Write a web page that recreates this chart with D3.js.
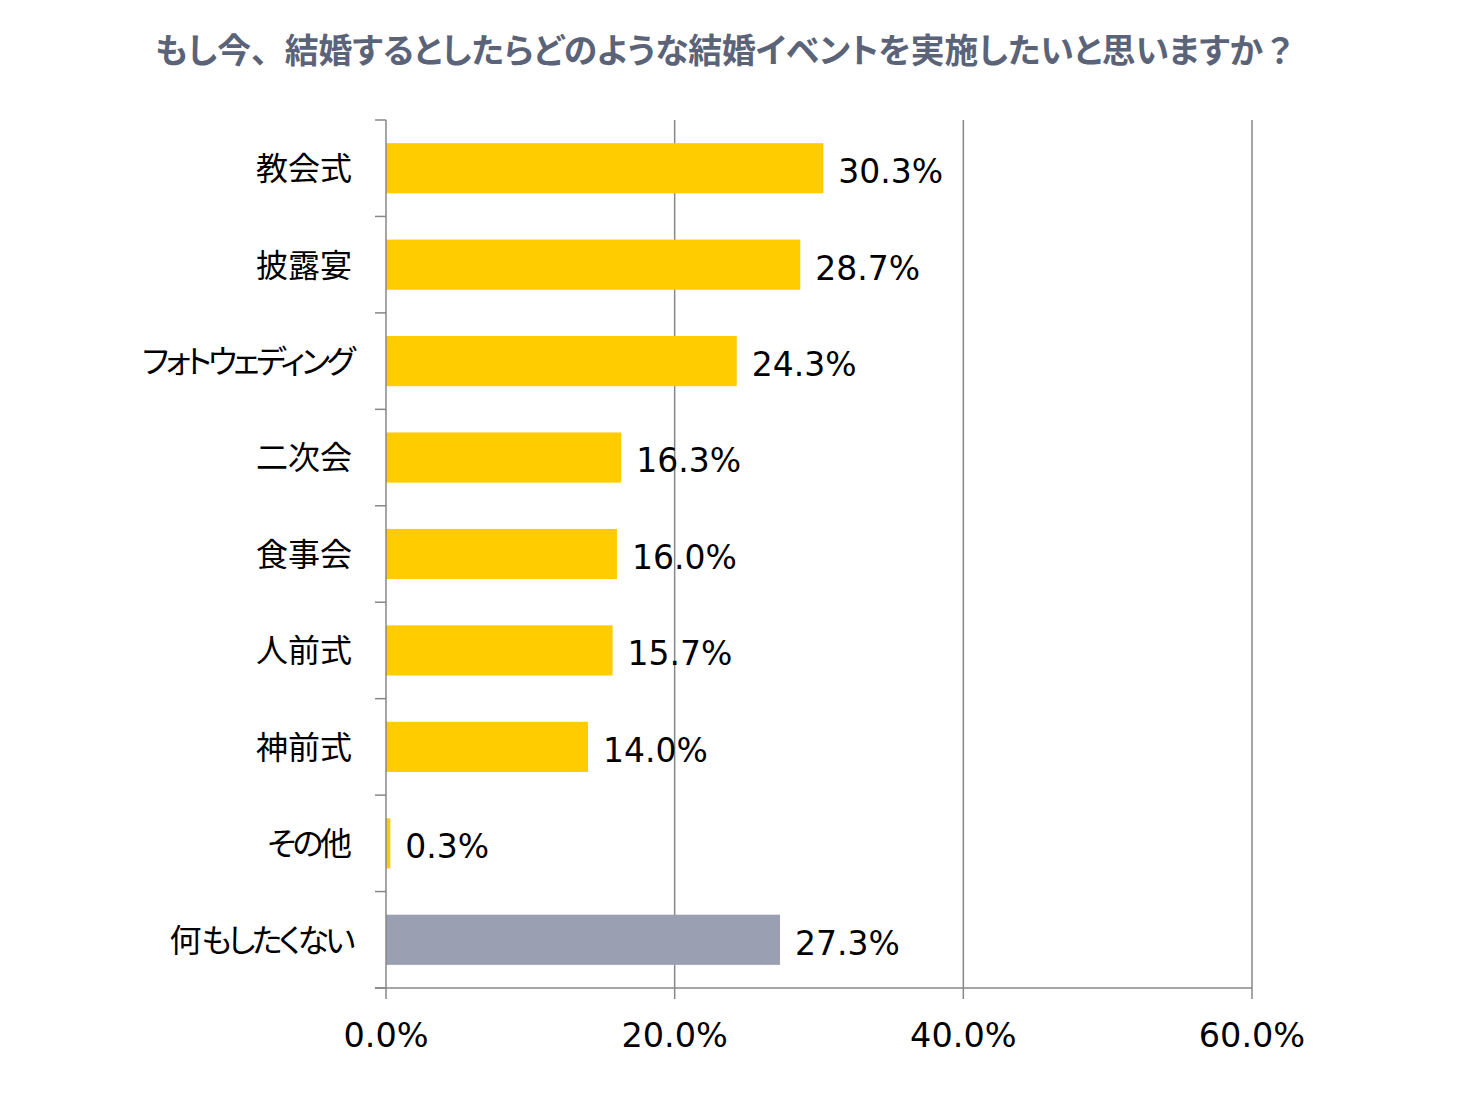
<!DOCTYPE html>
<html><head><meta charset="utf-8">
<script src="https://cdn.jsdelivr.net/npm/d3@7"></script>
<style>body{margin:0;background:#fff;}svg{display:block;}.jp{font-feature-settings:"palt" 1;}.fw{font-feature-settings:normal;}</style>
</head><body>
<script>
const titleText = "もし今、結婚するとしたらどのような結婚イベントを実施したいと思いますか？";
const categories = ["教会式","披露宴","フォトウェディング","二次会","食事会","人前式","神前式","その他","何もしたくない"];
const values = [30.3,28.7,24.3,16.3,16.0,15.7,14.0,0.3,27.3];
const barColors = ["#FFCC00","#FFCC00","#FFCC00","#FFCC00","#FFCC00","#FFCC00","#FFCC00","#FFCC00","#9A9FB1"];
const xTicks = [0,20,40,60];

(function(){
const W=1459,H=1095;
const svg=d3.select("body").append("svg").attr("width",W).attr("height",H);
const pL=386,pR=1252,pT=120,pB=988;
const x=d3.scaleLinear().domain([0,60]).range([pL,pR]);
const y=d3.scaleBand().domain(categories).range([pT,pB]).paddingInner(0.48).paddingOuter(0.24);
const grid="#878787";

// split text into runs
function runs(str,test){
  const out=[];
  for(const ch of str){
    const t=test(ch);
    if(out.length&&out[out.length-1].t===t) out[out.length-1].s+=ch; else out.push({s:ch,t});
  }
  return out;
}

const title=svg.append("text").attr("class","jp").attr("x",726).attr("y",63).attr("text-anchor","middle")
  .attr("font-family","'Noto Sans CJK JP'").attr("font-weight",700).attr("font-size",32)
  .attr("fill","#5B6378");
title.selectAll("tspan").data(runs(titleText,c=>"、？".includes(c))).join("tspan")
  .attr("class",d=>d.t?"fw":null).text(d=>d.s);
const tw=title.node().getComputedTextLength();
title.attr("font-size",32*1142/tw);

// gridlines
svg.append("g").selectAll("line").data(xTicks.filter(d=>d>0)).join("line")
  .attr("x1",d=>x(d)).attr("x2",d=>x(d)).attr("y1",pT).attr("y2",pB+11)
  .attr("stroke",grid).attr("stroke-width",1.5);

// bars
svg.append("g").selectAll("rect").data(categories).join("rect")
  .attr("x",x(0)).attr("y",d=>y(d)).attr("height",y.bandwidth())
  .attr("width",(d,i)=>x(values[i])-x(0)).attr("fill",(d,i)=>barColors[i]);

// left axis
const bounds=d3.range(categories.length+1).map(i=>pT+i*(pB-pT)/categories.length);
svg.append("line").attr("x1",pL).attr("x2",pL).attr("y1",pT).attr("y2",pB+11).attr("stroke",grid).attr("stroke-width",1.5);
svg.append("g").selectAll("line").data(bounds).join("line")
  .attr("x1",pL-11).attr("x2",pL).attr("y1",d=>d).attr("y2",d=>d).attr("stroke",grid).attr("stroke-width",1.5);
// bottom axis
svg.append("line").attr("x1",pL-11).attr("x2",pR).attr("y1",pB).attr("y2",pB).attr("stroke",grid).attr("stroke-width",1.5);

// category labels
const isKana=c=>/[\u3040-\u30ff]/.test(c);
const cl=svg.append("g").selectAll("text").data(categories).join("text").attr("class","jp")
  .attr("x",352).attr("y",d=>y(d)+y.bandwidth()/2).attr("dy","0.37em")
  .attr("text-anchor","end").attr("font-family","'Noto Sans CJK JP'").attr("font-size",32)
  .attr("fill","#000");
cl.each(function(d){
  d3.select(this).selectAll("tspan").data(runs(d,isKana)).join("tspan")
    .attr("letter-spacing",r=>r.t?-3.5:null).text(r=>r.s);
});

// value labels
svg.append("g").selectAll("text").data(categories).join("text")
  .attr("x",(d,i)=>x(values[i])+15).attr("y",d=>y(d)+y.bandwidth()/2+3).attr("dy","0.36em")
  .attr("font-family","'DejaVu Sans'").attr("font-size",33).attr("fill","#000")
  .text((d,i)=>values[i].toFixed(1)+"%");

// tick labels
svg.append("g").selectAll("text").data(xTicks).join("text")
  .attr("x",d=>x(d)).attr("y",1047).attr("text-anchor","middle")
  .attr("font-family","'DejaVu Sans'").attr("font-size",33.5).attr("fill","#000")
  .text(d=>d.toFixed(1)+"%");
})();
</script>
</body></html>
